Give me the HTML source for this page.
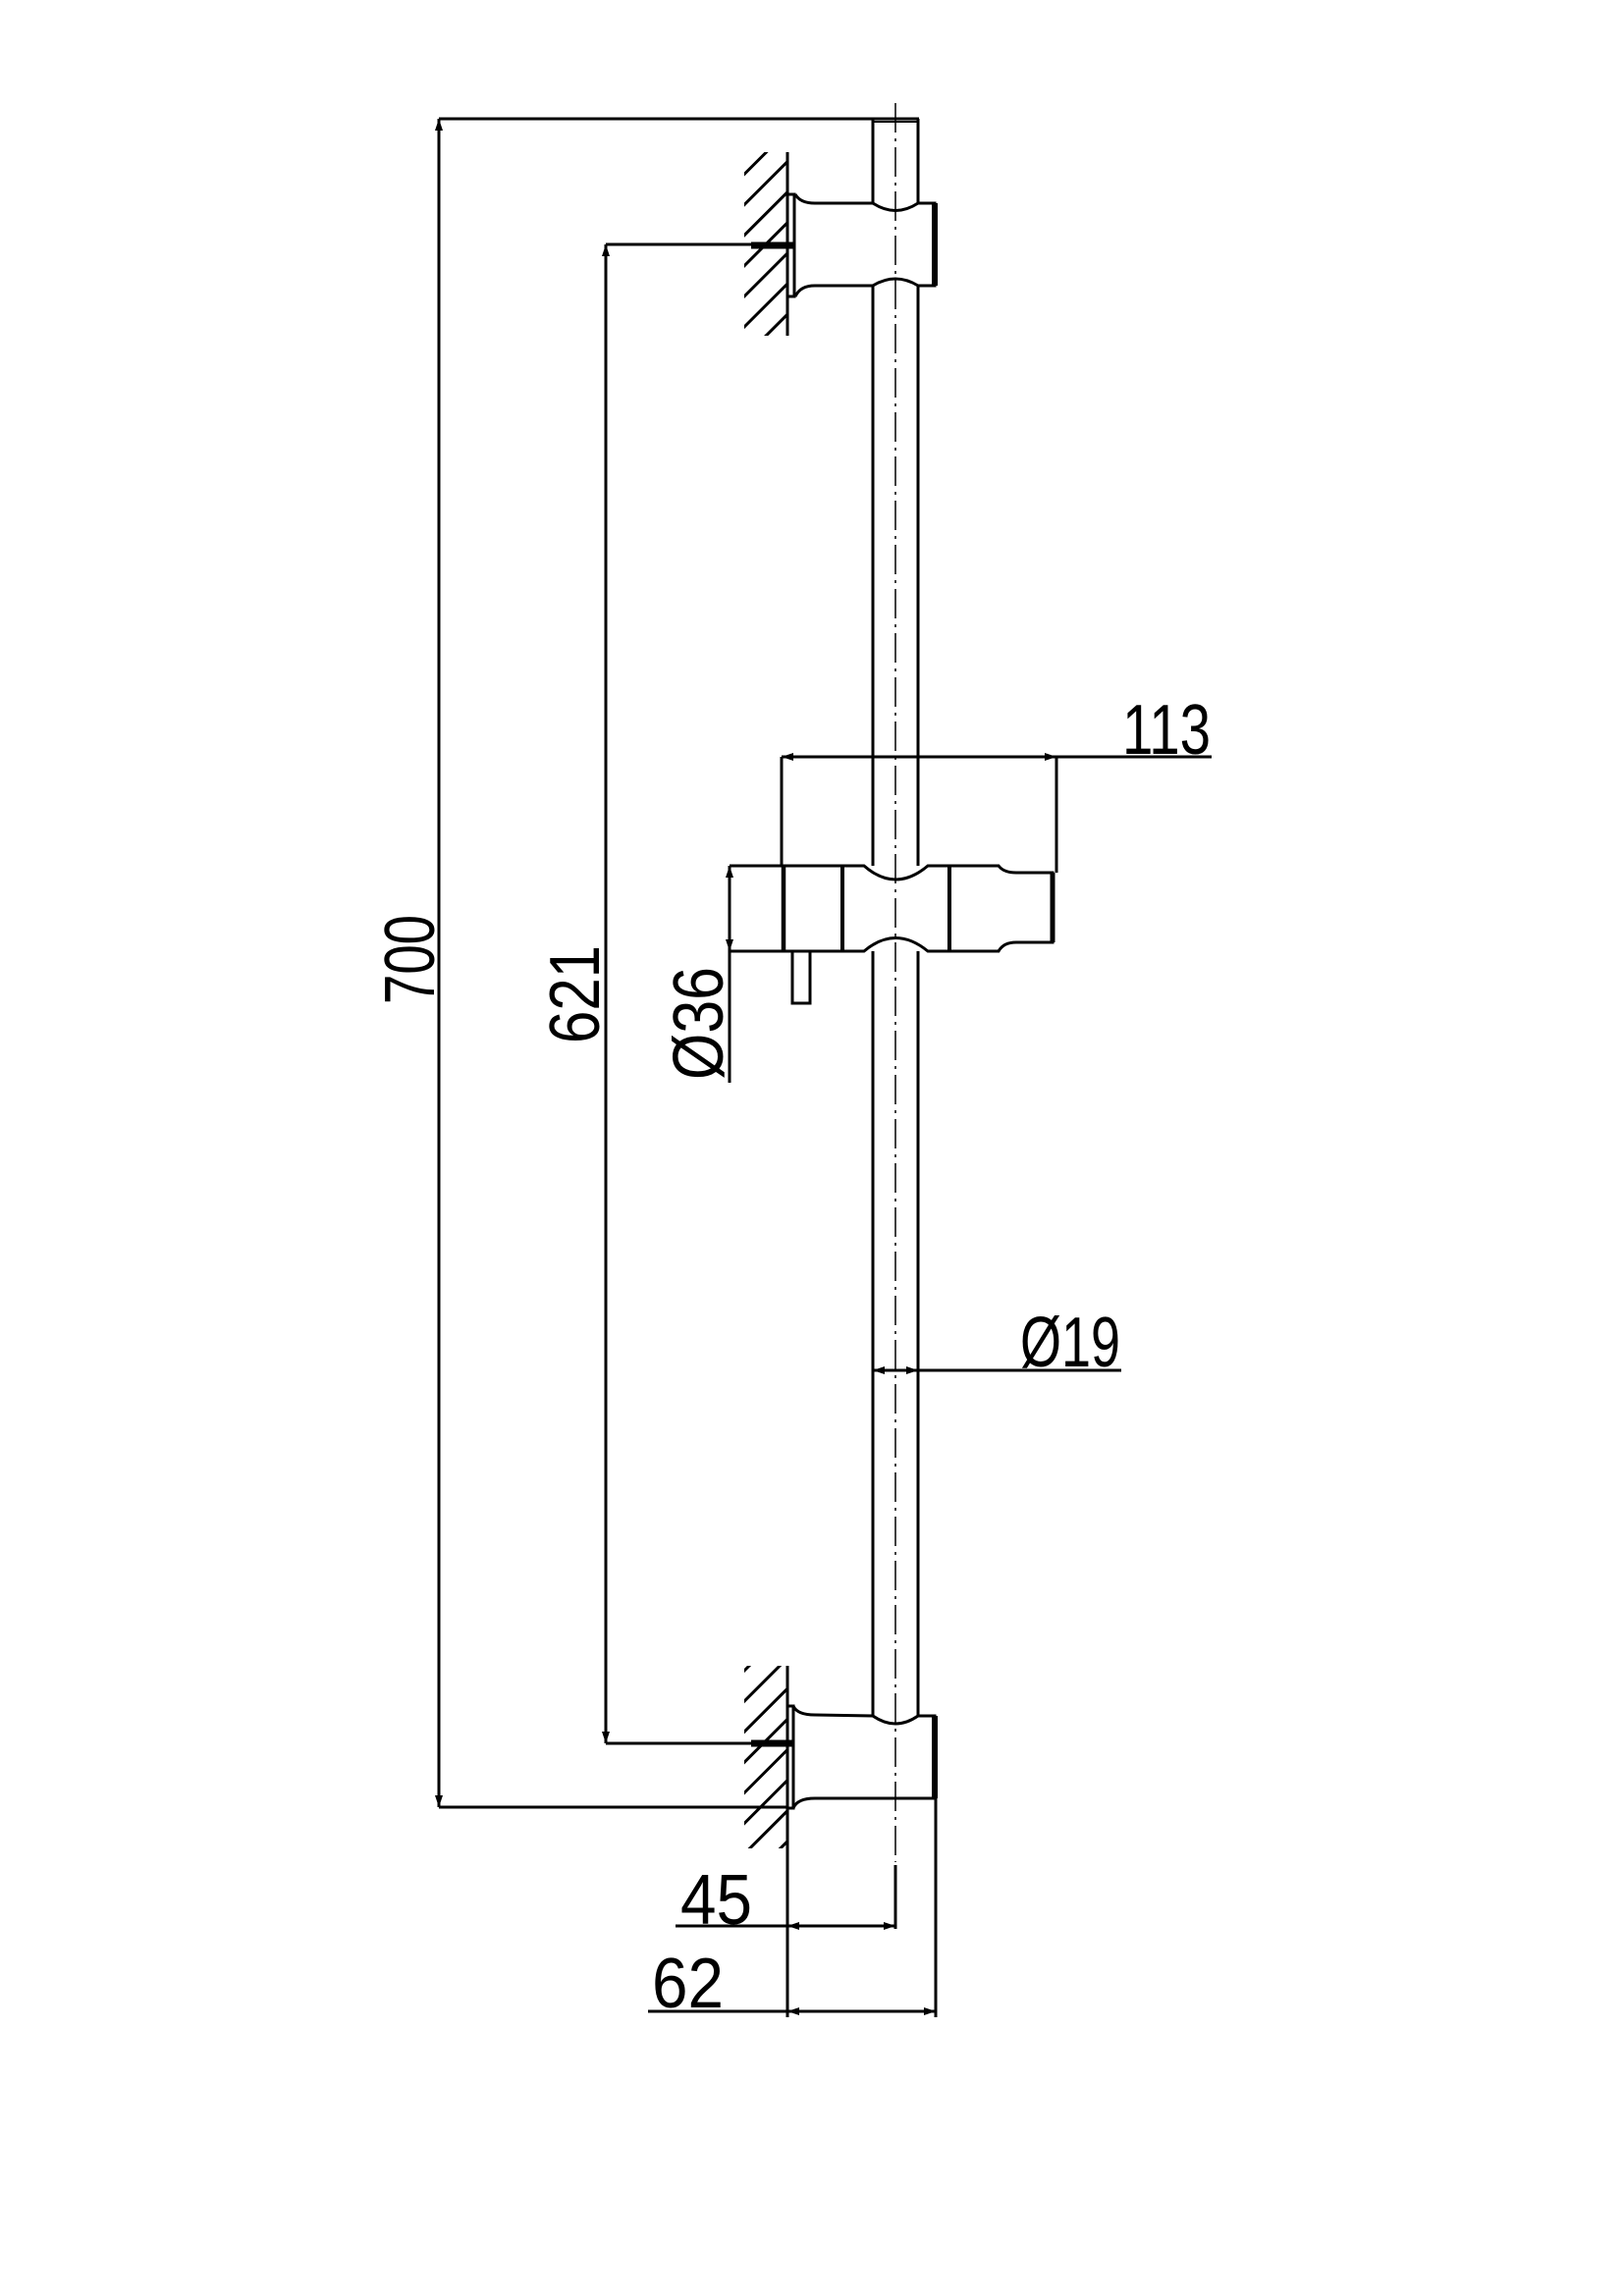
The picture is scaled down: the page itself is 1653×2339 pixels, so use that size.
<!DOCTYPE html>
<html><head><meta charset="utf-8"><style>
html,body{margin:0;padding:0;background:#fff;}
svg{display:block;}
text{font-family:"Liberation Sans",sans-serif;font-size:72px;fill:#000;}
</style></head><body>
<svg width="1653" height="2339" viewBox="0 0 1653 2339" xmlns="http://www.w3.org/2000/svg">
<defs>
<marker id="a" viewBox="0 0 12 8" refX="12" refY="4" markerWidth="12" markerHeight="8" markerUnits="userSpaceOnUse" orient="auto-start-reverse"><path d="M0,0 L12,4 L0,8 Z" fill="#000"/></marker>
<pattern id="h" width="22" height="22" patternUnits="userSpaceOnUse" patternTransform="rotate(45)"><rect x="0" y="0" width="3" height="22" fill="#000"/></pattern>
</defs>
<g stroke="#000" stroke-width="3" fill="none">
<line x1="912" y1="105" x2="912" y2="1897" stroke-width="1.5" stroke-dasharray="30,6,3,6"/>
<line x1="912" y1="1900" x2="912" y2="1965"/>
<line x1="447" y1="121" x2="936" y2="121"/>
<line x1="447" y1="1841" x2="802" y2="1841"/>
<line x1="447" y1="121" x2="447" y2="1841" marker-start="url(#a)" marker-end="url(#a)"/>
<line x1="617" y1="249" x2="765" y2="249"/>
<line x1="617" y1="1776" x2="765" y2="1776"/>
<line x1="617" y1="249" x2="617" y2="1776" marker-start="url(#a)" marker-end="url(#a)"/>
<line x1="889" y1="121" x2="889" y2="207"/><line x1="935" y1="121" x2="935" y2="207"/>
<line x1="889" y1="124" x2="935" y2="124" stroke-width="2"/>
<line x1="889" y1="292" x2="889" y2="882"/><line x1="935" y1="292" x2="935" y2="882"/>
<line x1="889" y1="969" x2="889" y2="1748"/><line x1="935" y1="969" x2="935" y2="1748"/>
<rect x="758" y="155" width="44" height="187" fill="url(#h)" stroke="none"/>
<line x1="802" y1="155" x2="802" y2="342"/>
<rect x="802" y="198" width="7" height="104" fill="#fff"/>
<path d="M810,198 Q815,207 830,207 L889,207 Q912,222 935,207 L952,207 L952,291 L935,291 Q912,277 889,291 L830,291 Q815,291 810,302"/>
<line x1="952" y1="207" x2="952" y2="291" stroke-width="6"/>
<line x1="765" y1="250" x2="808" y2="250" stroke-width="7"/>
<rect x="758" y="1697" width="44" height="186" fill="url(#h)" stroke="none"/>
<line x1="802" y1="1697" x2="802" y2="2055"/>
<rect x="802" y="1738" width="6" height="104" fill="#fff"/>
<path d="M808,1738 Q812,1747 830,1747 L889,1748 Q912,1764 935,1748 L952,1748 L952,1832 L830,1832 Q812,1832 808,1842"/>
<line x1="952" y1="1748" x2="952" y2="1832" stroke-width="6"/>
<line x1="765" y1="1776" x2="808" y2="1776" stroke-width="7"/>
<line x1="953" y1="1832" x2="953" y2="2055"/>
<path d="M743,882 L880,882 Q912,910 945,882 L1017,882 Q1022,889 1035,889 L1072,889 L1072,960 L1035,960 Q1022,960 1017,969 L945,969 Q912,942 880,969 L743,969"/>
<line x1="798" y1="882" x2="798" y2="969" stroke-width="4.5"/>
<line x1="858" y1="882" x2="858" y2="969" stroke-width="4"/>
<line x1="967" y1="882" x2="967" y2="969" stroke-width="4"/>
<line x1="1072" y1="889" x2="1072" y2="960" stroke-width="5"/>
<rect x="807" y="969" width="18" height="53"/>
<line x1="796" y1="771" x2="796" y2="882"/>
<line x1="1076" y1="771" x2="1076" y2="889"/>
<line x1="796" y1="771" x2="1076" y2="771" marker-start="url(#a)" marker-end="url(#a)"/>
<line x1="1076" y1="771" x2="1234" y2="771"/>
<line x1="743" y1="882" x2="743" y2="969" marker-start="url(#a)" marker-end="url(#a)"/>
<line x1="743" y1="969" x2="743" y2="1103"/>
<line x1="889" y1="1396" x2="935" y2="1396" marker-start="url(#a)" marker-end="url(#a)"/>
<line x1="935" y1="1396" x2="1142" y2="1396"/>
<line x1="802" y1="1962" x2="912" y2="1962" marker-start="url(#a)" marker-end="url(#a)"/>
<line x1="688" y1="1962" x2="802" y2="1962"/>
<line x1="802" y1="2049" x2="953" y2="2049" marker-start="url(#a)" marker-end="url(#a)"/>
<line x1="660" y1="2049" x2="802" y2="2049"/>
</g>
<g>
<text x="1143" y="768" textLength="90" lengthAdjust="spacingAndGlyphs">113</text>
<text x="1039" y="1392" textLength="102" lengthAdjust="spacingAndGlyphs">Ø19</text>
<text x="693" y="1960" textLength="73" lengthAdjust="spacingAndGlyphs">45</text>
<text x="664" y="2045" textLength="73" lengthAdjust="spacingAndGlyphs">62</text>
<text transform="translate(442,1023) rotate(-90)" textLength="91" lengthAdjust="spacingAndGlyphs">700</text>
<text transform="translate(610,1063) rotate(-90)" textLength="100" lengthAdjust="spacingAndGlyphs">621</text>
<text transform="translate(736,1100) rotate(-90)" textLength="115" lengthAdjust="spacingAndGlyphs">Ø36</text>
</g>
</svg>
</body></html>
